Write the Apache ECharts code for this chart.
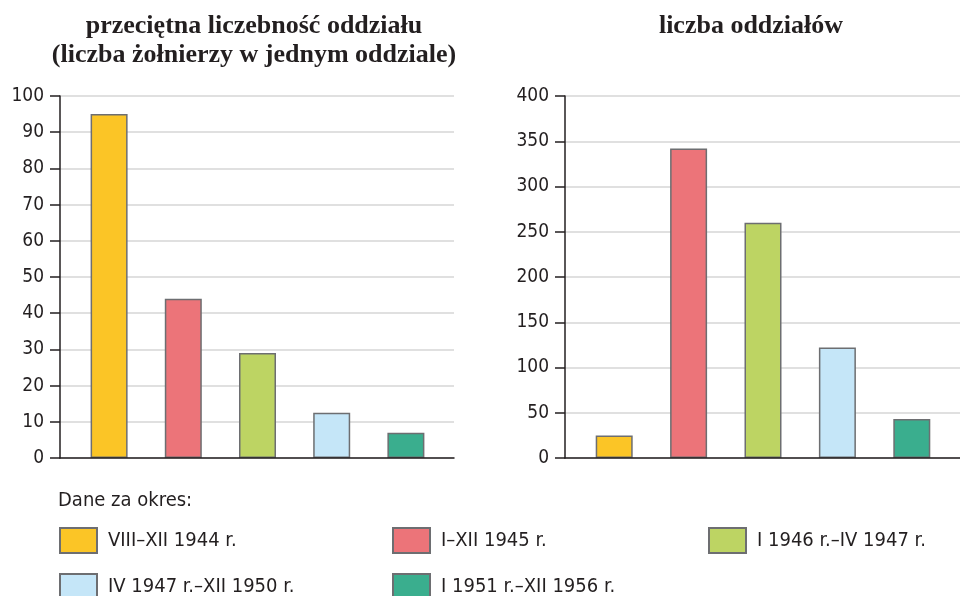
<!DOCTYPE html>
<html>
<head>
<meta charset="utf-8">
<script src="https://cdn.jsdelivr.net/npm/echarts@6/dist/echarts.min.js"></script>
<style>
  html, body { margin: 0; padding: 0; background: #fff; }
  #chart { width: 960px; height: 596px; }
</style>
</head>
<body>
<div id="chart"></div>
<script>
// periods (legend) and the two measured series
const periods = ['VIII–XII 1944 r.', 'I–XII 1945 r.', 'I 1946 r.–IV 1947 r.', 'IV 1947 r.–XII 1950 r.', 'I 1951 r.–XII 1956 r.'];
const avgSize = [95, 44, 29, 12.5, 7];
const unitCount = [25, 342, 260, 122, 43];
const leftTicks = [0, 100, 10];
const rightTicks = [0, 400, 50];
const colors = ['#fbc526', '#ec7479', '#bdd463', '#c5e6f8', '#3aae8e'];

const ink = '#231f20';
const sansFont = '"Liberation Sans Narrow", "DejaVu Sans Condensed", "Open Sans", sans-serif';
const serifFont = '"Liberation Serif", "DejaVu Serif", serif';

const chart = echarts.init(document.getElementById('chart'));

// grids 0 and 2 carry the visible axes / gridlines, grids 1 and 3 hold the bars
const grids = [
  { left: 60, top: 96, width: 394, height: 362 },
  { left: 72, top: 96, width: 371, height: 362 },
  { left: 565, top: 96, width: 395, height: 362 },
  { left: 577, top: 96, width: 372, height: 362 }
];

const frameY = (gridIndex, ticks) => ({
  type: 'value',
  gridIndex,
  min: ticks[0],
  max: ticks[1],
  interval: ticks[2],
  axisLine: { show: true, lineStyle: { color: ink, width: 1.5 } },
  axisTick: { show: true, length: 10, lineStyle: { color: ink, width: 1.5 } },
  axisLabel: { color: ink, fontSize: 19, fontFamily: sansFont, margin: 16 },
  splitLine: { lineStyle: { color: '#d6d6d6', width: 1.5 } },
  z: 1
});

const barY = (gridIndex, ticks) => ({
  type: 'value',
  gridIndex,
  min: ticks[0],
  max: ticks[1],
  interval: ticks[2],
  show: false
});

const frameX = gridIndex => ({
  type: 'category',
  gridIndex,
  data: [''],
  axisLine: { show: true, lineStyle: { color: ink, width: 1.5 } },
  axisTick: { show: false },
  axisLabel: { show: false },
  z: 5
});

const barX = gridIndex => ({
  type: 'category',
  gridIndex,
  data: periods,
  show: false
});

const series = [];
[[avgSize, 1], [unitCount, 3]].forEach(([values, g]) => {
  values.forEach((v, i) => {
    series.push({
      name: periods[i],
      type: 'bar',
      xAxisIndex: g,
      yAxisIndex: g,
      stack: 'g' + g,
      barWidth: 37,
      itemStyle: { color: colors[i], borderColor: '#6d6e71', borderWidth: 1.5 },
      data: values.map((_, j) => (j === i ? v : '-'))
    });
  });
});

// one legend per item so each can sit in its own column
const legendSpots = [
  { left: 59, top: 527 },
  { left: 392, top: 527 },
  { left: 708, top: 527 },
  { left: 59, top: 573 },
  { left: 392, top: 573 }
];
const legends = periods.map((p, i) => ({
  data: [p],
  left: legendSpots[i].left,
  top: legendSpots[i].top,
  padding: 0,
  icon: 'rect',
  itemWidth: 37,
  itemHeight: 25,
  selectedMode: false,
  textStyle: { color: ink, fontSize: 20, fontFamily: sansFont, padding: [0, 0, 0, 6] }
}));

chart.setOption({
  animation: false,
  title: [
    {
      text: 'przeciętna liczebność oddziału\n(liczba żołnierzy w jednym oddziale)',
      left: 249,
      top: 7,
      textAlign: 'center',
      textStyle: { color: ink, fontSize: 26, fontWeight: 'bold', fontFamily: serifFont, lineHeight: 29 }
    },
    {
      text: 'liczba oddziałów',
      left: 746,
      top: 7,
      textAlign: 'center',
      textStyle: { color: ink, fontSize: 26, fontWeight: 'bold', fontFamily: serifFont, lineHeight: 29 }
    },
    {
      text: 'Dane za okres:',
      left: 58,
      top: 491,
      padding: 0,
      textStyle: { color: ink, fontSize: 20, fontWeight: 'normal', fontFamily: sansFont }
    }
  ],
  legend: legends,
  grid: grids,
  xAxis: [frameX(0), barX(1), frameX(2), barX(3)],
  yAxis: [frameY(0, leftTicks), barY(1, leftTicks), frameY(2, rightTicks), barY(3, rightTicks)],
  series
});
</script>
</body>
</html>
